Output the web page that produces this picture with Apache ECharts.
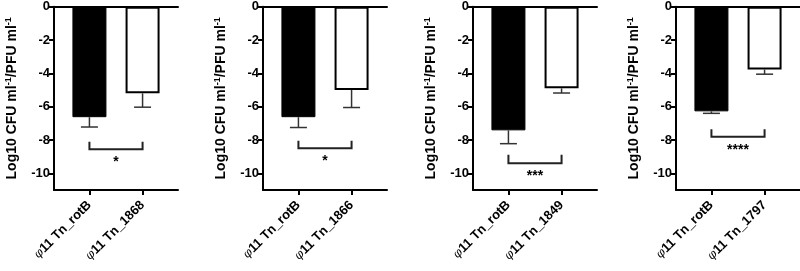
<!DOCTYPE html>
<html>
<head>
<meta charset="utf-8">
<script src="https://cdn.jsdelivr.net/npm/echarts@6/dist/echarts.min.js"></script>
<style>
html,body{margin:0;padding:0;background:#fff;}
#c{width:800px;height:271px;}
</style>
</head>
<body>
<div id="c"></div>
<script>
// ---- data ----
const categories1 = ['φ11 Tn_rotB', 'φ11 Tn_1868'];
const categories2 = ['φ11 Tn_rotB', 'φ11 Tn_1866'];
const categories3 = ['φ11 Tn_rotB', 'φ11 Tn_1849'];
const categories4 = ['φ11 Tn_rotB', 'φ11 Tn_1797'];
const means1 = [-6.63, -5.2];
const means2 = [-6.63, -5.0];
const means3 = [-7.42, -4.9];
const means4 = [-6.28, -3.77];
const lows1 = [-7.22, -6.03];
const lows2 = [-7.25, -6.05];
const lows3 = [-8.22, -5.18];
const lows4 = [-6.40, -4.05];
const bracketY = [-8.55, -8.5, -9.4, -7.8];
const bracketTop = [-8.1, -8.05, -8.88, -7.35];
const stars = ['*', '*', '***', '****'];
const yTicks = [0, -2, -4, -6, -8, -10];
const yMin = -11, yMax = 0;

const panels = [
  {cats: categories1, means: means1, lows: lows1},
  {cats: categories2, means: means2, lows: lows2},
  {cats: categories3, means: means3, lows: lows3},
  {cats: categories4, means: means4, lows: lows4}
];
const gridLefts = [54, 263, 473, 676];
const SLOT = [2, 5];      // positions of the two groups among 8 slots
const NSLOT = 8;
const FONT = 'Liberation Sans, Arial, sans-serif';

const grids = [], xAxes = [], yAxes = [], series = [];
panels.forEach((p, i) => {
  grids.push({left: gridLefts[i], top: 6.7, width: 124, height: 183.3});
  const slots = new Array(NSLOT).fill('');
  slots[SLOT[0]] = p.cats[0];
  slots[SLOT[1]] = p.cats[1];
  xAxes.push({
    type: 'category', gridIndex: i, data: slots, boundaryGap: false, position: 'bottom',
    axisLine: {onZero: false, lineStyle: {color: '#000', width: 2}},
    axisTick: {show: true, length: 5, lineStyle: {color: '#000', width: 2},
      interval: (idx) => idx === SLOT[0] || idx === SLOT[1]},
    axisLabel: {
      interval: (idx) => idx === SLOT[0] || idx === SLOT[1],
      rotate: 45, margin: 13,
      formatter: (v) => v ? '{p|' + v.slice(0, 1) + '}{b|' + v.slice(1) + '}' : '',
      rich: {
        p: {fontFamily: 'DejaVu Serif', fontStyle: 'italic', fontSize: 12, color: '#000'},
        b: {fontFamily: FONT, fontWeight: 'bold', fontSize: 13, color: '#000'}
      }
    },
    splitLine: {show: false}
  });
  xAxes.push({
    type: 'category', gridIndex: i, data: slots, boundaryGap: false, position: 'top',
    axisLine: {onZero: false, lineStyle: {color: '#000', width: 2}},
    axisTick: {show: false}, axisLabel: {show: false}, splitLine: {show: false}
  });
  yAxes.push({
    type: 'value', gridIndex: i, min: yMin, max: yMax,
    name: '{a|Log10 CFU ml}{s|-1}{a|/PFU ml}{s|-1}',
    nameLocation: 'middle', nameGap: 34, nameRotate: 90,
    nameTextStyle: {
      rich: {
        a: {fontFamily: FONT, fontWeight: 'bold', fontSize: 14, color: '#000', lineHeight: 16},
        s: {fontFamily: FONT, fontWeight: 'bold', fontSize: 9, color: '#000', verticalAlign: 'top', lineHeight: 16, padding: [0, 0, 6, 0]}
      }
    },
    axisLine: {show: true, lineStyle: {color: '#000', width: 2}},
    axisTick: {show: true, length: 5, lineStyle: {color: '#000', width: 2}, customValues: yTicks},
    axisLabel: {customValues: yTicks, fontFamily: FONT, fontWeight: 'bold', fontSize: 13, color: '#000', margin: 4},
    splitLine: {show: false}
  });
  const xb = i * 2;
  series.push({
    type: 'bar', xAxisIndex: xb, yAxisIndex: i, barWidth: 34, z: 2,
    data: [
      {value: [SLOT[0], p.means[0]], itemStyle: {color: '#000', borderColor: '#000', borderWidth: 1}},
      {value: [SLOT[1], p.means[1]], itemStyle: {color: '#fff', borderColor: '#000', borderWidth: 2}}
    ]
  });
  series.push({
    type: 'custom', xAxisIndex: xb, yAxisIndex: i, z: 3,
    encode: {x: 0, y: [1, 2]},
    data: [[SLOT[0], p.means[0], p.lows[0]], [SLOT[1], p.means[1], p.lows[1]]],
    renderItem: (params, api) => {
      const a = api.coord([api.value(0), api.value(1)]);
      const b = api.coord([api.value(0), api.value(2)]);
      const hw = 8.5;
      const st = {stroke: '#333', lineWidth: 1.5};
      return {type: 'group', children: [
        {type: 'line', shape: {x1: a[0], y1: a[1], x2: b[0], y2: b[1]}, style: st},
        {type: 'line', shape: {x1: b[0] - hw, y1: b[1], x2: b[0] + hw, y2: b[1]}, style: st}
      ]};
    }
  });
  series.push({
    type: 'custom', xAxisIndex: xb, yAxisIndex: i, z: 3,
    encode: {x: [0, 1], y: [2, 3]},
    data: [[SLOT[0], SLOT[1], bracketY[i], bracketTop[i]]],
    renderItem: (params, api) => {
      const l = api.coord([api.value(0), api.value(2)]);
      const r = api.coord([api.value(1), api.value(2)]);
      const lt = api.coord([api.value(0), api.value(3)]);
      const st = {stroke: '#222', lineWidth: 2, fill: null};
      return {type: 'group', children: [
        {type: 'polyline', shape: {points: [[lt[0], lt[1]], [l[0], l[1]], [r[0], r[1]], [r[0], lt[1]]]}, style: st},
        {type: 'text', x: (l[0] + r[0]) / 2, y: l[1] + 6,
          style: {text: stars[i], fontFamily: FONT, fontWeight: 'bold', fontSize: 14, fill: '#000', align: 'center', verticalAlign: 'top'}}
      ]};
    }
  });
});

const chart = echarts.init(document.getElementById('c'), null, {renderer: 'canvas'});
chart.setOption({
  animation: false,
  backgroundColor: '#fff',
  grid: grids, xAxis: xAxes, yAxis: yAxes, series: series
});
</script>
</body>
</html>
